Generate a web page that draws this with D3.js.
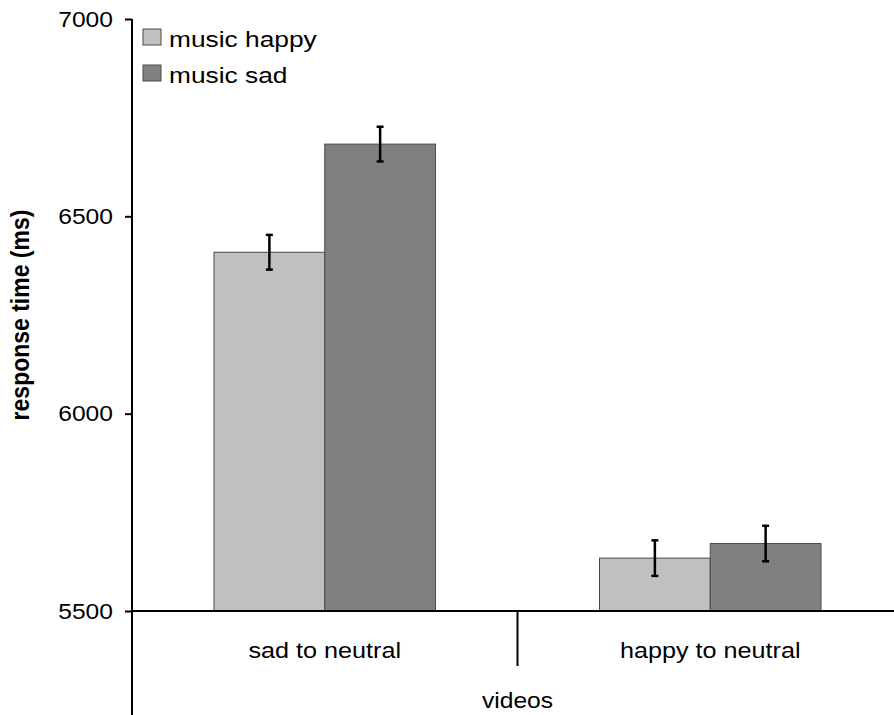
<!DOCTYPE html>
<html>
<head>
<meta charset="utf-8">
<script src="https://cdn.jsdelivr.net/npm/d3@7"></script>
<style>
  html, body { margin: 0; padding: 0; background: #fff; }
  svg text { font-family: "Liberation Sans", Arial, sans-serif; fill: #000; }
</style>
</head>
<body>
<svg id="chart" width="894" height="715"></svg>
<script>
// Response times by video type and music condition
const categories = ["sad to neutral", "happy to neutral"];
const seriesNames = ["music happy", "music sad"];
const musicHappy = [6409, 5634];
const musicSad = [6683, 5671];
const errHappy = [44, 45];
const errSad = [44, 45];
const yTicks = [5500, 6000, 6500, 7000];

const colors = ["#c0c0c0", "#808080"];

const svg = d3.select("#chart");
const plotLeft = 132, plotRight = 903, plotTop = 19, plotBottom = 611;
const stretch = 1.12; // glyphs are drawn slightly wide

const x0 = d3.scaleBand().domain(categories).range([plotLeft, plotRight]).paddingInner(0).paddingOuter(0);
const x1 = d3.scaleBand().domain(seriesNames).range([82, x0.bandwidth() - 82]).padding(0);
const y = d3.scaleLinear().domain([5500, 7000]).range([plotBottom, plotTop]);

const data = categories.map((c, i) => ({
  cat: c,
  vals: [
    { s: seriesNames[0], v: musicHappy[i], e: errHappy[i], col: colors[0] },
    { s: seriesNames[1], v: musicSad[i], e: errSad[i], col: colors[1] }
  ]
}));

const groups = svg.selectAll("g.grp").data(data).enter().append("g")
  .attr("class", "grp")
  .attr("transform", d => `translate(${x0(d.cat)},0)`);

groups.selectAll("rect").data(d => d.vals).enter().append("rect")
  .attr("x", d => x1(d.s))
  .attr("width", x1.bandwidth())
  .attr("y", d => y(d.v))
  .attr("height", d => y(5500) - y(d.v))
  .attr("fill", d => d.col)
  .attr("stroke", "#4a4a4a")
  .attr("stroke-width", 1);

// error bars
const eb = groups.selectAll("g.eb").data(d => d.vals).enter().append("g").attr("class", "eb");
eb.append("line")
  .attr("x1", d => x1(d.s) + x1.bandwidth() / 2)
  .attr("x2", d => x1(d.s) + x1.bandwidth() / 2)
  .attr("y1", d => y(d.v + d.e))
  .attr("y2", d => y(d.v - d.e))
  .attr("stroke", "#000").attr("stroke-width", 2.5);
[1, -1].forEach(sgn => {
  eb.append("line")
    .attr("x1", d => x1(d.s) + x1.bandwidth() / 2 - 3.5)
    .attr("x2", d => x1(d.s) + x1.bandwidth() / 2 + 3.5)
    .attr("y1", d => y(d.v + sgn * d.e))
    .attr("y2", d => y(d.v + sgn * d.e))
    .attr("stroke", "#000").attr("stroke-width", 2.5);
});

// y axis
const yAxis = d3.axisLeft(y).tickValues(yTicks).tickSize(7).tickFormat(d3.format("d"));
const gy = svg.append("g").attr("transform", `translate(${plotLeft},0)`).call(yAxis);
gy.select(".domain").remove();
gy.selectAll(".tick line").attr("stroke", "#000").attr("stroke-width", 2);
gy.selectAll(".tick text")
  .attr("x", 0)
  .attr("transform", `translate(-19,0) scale(${stretch},1)`)
  .style("font-size", "22px").attr("fill", "#000");
svg.append("line")
  .attr("x1", plotLeft).attr("x2", plotLeft).attr("y1", plotTop).attr("y2", 715)
  .attr("stroke", "#000").attr("stroke-width", 2);

// x axis
svg.append("line")
  .attr("x1", plotLeft).attr("x2", 894).attr("y1", plotBottom).attr("y2", plotBottom)
  .attr("stroke", "#000").attr("stroke-width", 2);
// category separator
svg.append("line")
  .attr("x1", x0(categories[1])).attr("x2", x0(categories[1]))
  .attr("y1", plotBottom).attr("y2", plotBottom + 55)
  .attr("stroke", "#000").attr("stroke-width", 2);

svg.selectAll("text.cat").data(categories).enter().append("text")
  .attr("class", "cat")
  .attr("transform", d => `translate(${x0(d) + x0.bandwidth() / 2},658) scale(${stretch},1)`)
  .attr("text-anchor", "middle")
  .style("font-size", "22.5px")
  .text(d => d);

svg.append("text")
  .attr("transform", `translate(${x0(categories[1])},708) scale(${stretch},1)`)
  .attr("text-anchor", "middle")
  .style("font-size", "22px")
  .text("videos");

svg.append("text")
  .attr("transform", `translate(29,315) scale(${stretch},1) rotate(-90)`)
  .attr("text-anchor", "middle")
  .style("font-size", "23px")
  .style("font-weight", "bold")
  .text("response time (ms)");

// legend
const leg = svg.selectAll("g.leg").data(seriesNames).enter().append("g")
  .attr("class", "leg")
  .attr("transform", (d, i) => `translate(143,${29 + i * 36})`);
leg.append("rect")
  .attr("width", 18).attr("height", 16)
  .attr("fill", (d, i) => colors[i])
  .attr("stroke", "#4a4a4a").attr("stroke-width", 1);
leg.append("text")
  .attr("transform", `translate(26,17.5) scale(1.17,1)`)
  .style("font-size", "22.5px")
  .text(d => d);
</script>
</body>
</html>
